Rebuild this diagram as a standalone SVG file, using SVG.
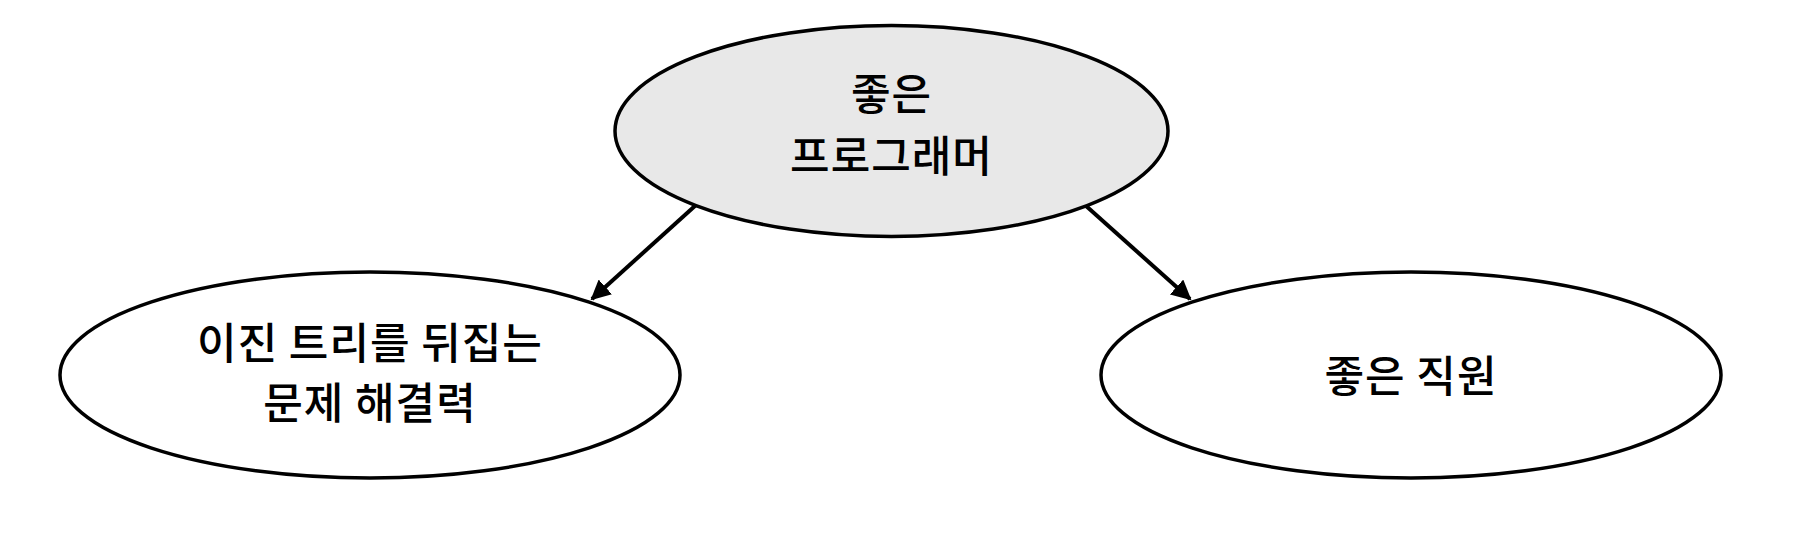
<svg xmlns="http://www.w3.org/2000/svg" width="1820" height="538" viewBox="0 0 1820 538">
<style>
.node{stroke:#000;stroke-width:3.5;}
.lbl{font-family:"Noto Sans CJK KR","Noto Sans",sans-serif;font-size:43px;letter-spacing:1px;font-weight:500;fill:#000;text-anchor:middle;dominant-baseline:central;}
.edge{stroke:#000;stroke-width:4;fill:none;}
</style>
<defs>
<marker id="arr" viewBox="0 0 10 10" refX="9" refY="5" markerWidth="5" markerHeight="5" orient="auto" markerUnits="strokeWidth">
<path d="M0,0 L10,5 L0,10 z" fill="#000"/>
</marker>
</defs>
<rect width="1820" height="538" fill="#fff"/>
<g id="connectors">
<line class="edge" x1="696" y1="205" x2="592" y2="299" marker-end="url(#arr)"/>
<line class="edge" x1="1085" y1="205" x2="1190" y2="299" marker-end="url(#arr)"/>
</g>
<g id="node-programmer">
<ellipse class="node" cx="891.5" cy="131" rx="276.5" ry="105.5" fill="#e8e8e8"/>
<text class="lbl"><tspan x="891.5" y="91">좋은</tspan><tspan x="891.5" y="153">프로그래머</tspan></text>
</g>
<g id="node-problem">
<ellipse class="node" cx="370" cy="375" rx="310" ry="103" fill="#fff"/>
<text class="lbl"><tspan x="370" y="340">이진 트리를 뒤집는</tspan><tspan x="370" y="400">문제 해결력</tspan></text>
</g>
<g id="node-employee">
<ellipse class="node" cx="1411" cy="375" rx="310" ry="103" fill="#fff"/>
<text class="lbl" x="1411" y="373">좋은 직원</text>
</g>
</svg>
